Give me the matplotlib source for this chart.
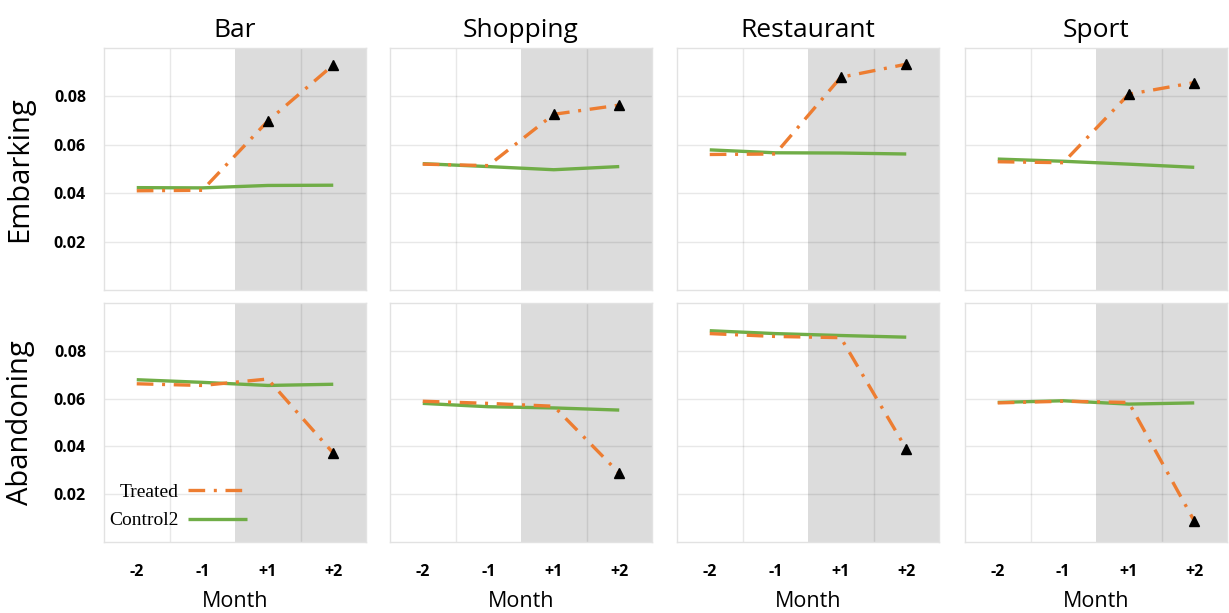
import matplotlib
matplotlib.use("Agg")
import matplotlib.pyplot as plt
import numpy as np

# months around the treatment, and the venue categories
months = ["-2", "-1", "+1", "+2"]
categories = ["Bar", "Shopping", "Restaurant", "Sport"]
rows = ["Embarking", "Abandoning"]

# embarking rates
emb_treated = {
    "Bar":        [0.0410, 0.0412, 0.0698, 0.0930],
    "Shopping":   [0.0520, 0.0514, 0.0726, 0.0764],
    "Restaurant": [0.0560, 0.0562, 0.0879, 0.0933],
    "Sport":      [0.0530, 0.0526, 0.0809, 0.0857],
}
emb_control = {
    "Bar":        [0.0423, 0.0422, 0.0432, 0.0433],
    "Shopping":   [0.0522, 0.0510, 0.0497, 0.0510],
    "Restaurant": [0.0579, 0.0567, 0.0566, 0.0562],
    "Sport":      [0.0541, 0.0532, 0.0520, 0.0507],
}

# abandoning rates
abn_treated = {
    "Bar":        [0.0662, 0.0655, 0.0682, 0.0372],
    "Shopping":   [0.0589, 0.0580, 0.0568, 0.0288],
    "Restaurant": [0.0872, 0.0860, 0.0855, 0.0390],
    "Sport":      [0.0582, 0.0589, 0.0584, 0.0088],
}
abn_control = {
    "Bar":        [0.0679, 0.0668, 0.0655, 0.0660],
    "Shopping":   [0.0580, 0.0566, 0.0561, 0.0552],
    "Restaurant": [0.0884, 0.0872, 0.0864, 0.0857],
    "Sport":      [0.0584, 0.0591, 0.0577, 0.0582],
}

# months flagged with a marker on the treated line, per row
flagged = [[2, 3], [3]]

ORANGE = "#ED7D31"
GREEN = "#70AD47"
SHADE = "#DCDCDC"

main_font = "Open Sans"

fig = plt.figure(figsize=(12.29, 6.13), dpi=100)

lefts = [104, 390, 677, 965]
W, H = 1229.0, 613.0
panel_w = 262
row_boxes = [(290, 242), (542, 239)]  # (bottom px, height px)

x = np.arange(len(months))

for r, row in enumerate(rows):
    treated = emb_treated if r == 0 else abn_treated
    control = emb_control if r == 0 else abn_control
    bottom_px, height_px = row_boxes[r]
    for c, cat in enumerate(categories):
        ax = fig.add_axes([lefts[c] / W, 1 - bottom_px / H, panel_w / W, height_px / H])

        # post-treatment months
        ax.axvspan(1.5, 3.5, color=SHADE, zorder=0.2, lw=0)

        ax.plot(x, control[cat], color=GREEN, lw=2.4, solid_capstyle="butt",
                zorder=3, label="Control2")
        ax.plot(x, treated[cat], color=ORANGE, lw=2.4, dashes=(5, 2.6, 0.9, 2.6),
                zorder=4, label="Treated")
        idx = flagged[r]
        ax.plot(x[idx], np.array(treated[cat])[idx], "^", color="black",
                ms=7.5, zorder=5)

        ax.set_xlim(-0.5, 3.5)
        ax.set_ylim(0, 0.1)
        ax.set_xticks(x)
        ax.set_xticks([0.5, 2.5], minor=True)
        ax.set_yticks([0.02, 0.04, 0.06, 0.08])
        ax.grid(False)
        ax.grid(True, axis="x", which="minor", color="black", alpha=0.09, lw=1)
        ax.grid(True, axis="y", which="major", color="black", alpha=0.09, lw=1)
        ax.set_axisbelow(True)
        ax.tick_params(which="both", length=0)

        for s in ax.spines.values():
            s.set_color("#E2E2E2")
            s.set_linewidth(1)

        if c == 0:
            ax.set_yticklabels(["0.02", "0.04", "0.06", "0.08"],
                               fontfamily=main_font, fontweight="bold", fontsize=11.5)
            ax.tick_params(axis="y", pad=13)
            ax.set_ylabel(row, fontfamily=main_font, fontsize=21)
            ax.yaxis.set_label_coords(-0.265, 0.5)
        else:
            ax.set_yticklabels([])

        if r == 0:
            ax.set_xticklabels([])
            ax.set_title(cat, fontfamily=main_font, fontsize=19, pad=8)
        else:
            ax.set_xticklabels(months, fontfamily=main_font, fontweight="bold",
                               fontsize=11.5)
            ax.tick_params(axis="x", pad=16)
            ax.set_xlabel("Month", fontfamily=main_font, fontsize=15.5)
            ax.xaxis.set_label_coords(0.5, -0.205)

        if r == 1 and c == 0:
            handles, labels = ax.get_legend_handles_labels()
            ax.legend(handles[::-1], labels[::-1], loc="lower left",
                      bbox_to_anchor=(-0.01, 0.02), frameon=False,
                      markerfirst=False, handlelength=3.0, handletextpad=0.5,
                      labelspacing=0.55, borderaxespad=0,
                      prop={"family": "Liberation Serif", "size": 14})

fig.savefig("out.png", dpi=100)
